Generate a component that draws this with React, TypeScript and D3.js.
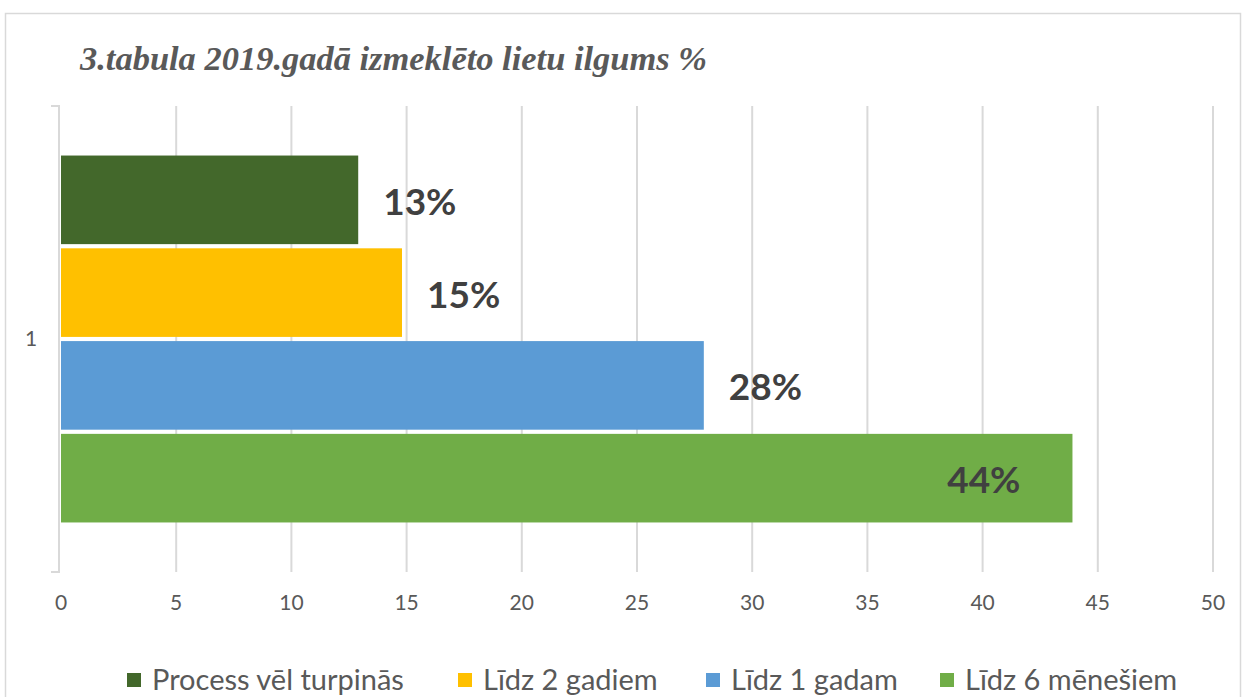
import React, { useEffect, useRef } from 'react';
import { scaleLinear, scaleBand, select } from 'd3';

const WIDTH = 1247;
const HEIGHT = 697;

const title = '3.tabula 2019.gadā izmeklēto lietu ilgums %';
const categories = ['1'];
const seriesNames = ['Process vēl turpinās', 'Līdz 2 gadiem', 'Līdz 1 gadam', 'Līdz 6 mēnešiem'];
const seriesValues = [12.9, 14.8, 27.9, 43.9];
const seriesColors = ['#43682B', '#FFC000', '#5B9BD5', '#70AD47'];
const xTicks = [0, 5, 10, 15, 20, 25, 30, 35, 40, 45, 50];
const legendX = [127, 458, 706, 940];

const GREY = '#595959';
const LABEL = '#404040';
const GRID = '#d9d9d9';
const SANS = 'Lato, "Open Sans", sans-serif';

function App () {
  const node = useRef<SVGSVGElement | null>(null);

  useEffect(() => {
    const svg = select(node.current);
    svg.selectAll('*').remove();

    const x = scaleLinear().domain([0, 50]).range([61, 1213]);
    const yTop = 106;
    const yBottom = 572;
    const y0 = scaleBand()
      .domain(categories)
      .range([yTop, yBottom])
      .paddingOuter(0.135)
      .paddingInner(0);
    const y1 = scaleBand()
      .domain(seriesNames)
      .range([0, y0.bandwidth()])
      .paddingInner(0.045);

    // frame
    svg.append('rect')
      .attr('x', 5.5).attr('y', 13.5)
      .attr('width', 1235).attr('height', 700)
      .attr('fill', '#fff')
      .attr('stroke', GRID)
      .attr('stroke-width', 1.5);

    // title
    svg.append('text')
      .attr('x', 80).attr('y', 70)
      .attr('font-family', '"Liberation Serif", "Times New Roman", serif')
      .attr('font-style', 'italic')
      .attr('font-weight', 'bold')
      .attr('font-size', 33)
      .attr('fill', GREY)
      .attr('textLength', 627)
      .attr('lengthAdjust', 'spacingAndGlyphs')
      .text(title);

    // gridlines
    svg.append('g').selectAll('line')
      .data(xTicks.filter(d => d > 0))
      .enter().append('line')
      .attr('x1', d => x(d)).attr('x2', d => x(d))
      .attr('y1', yTop).attr('y2', yBottom)
      .attr('stroke', GRID).attr('stroke-width', 2);

    // category axis
    const ax = x(0) - 2;
    svg.append('path')
      .attr('d', `M${ax - 8},${yTop} H${ax} V${yBottom} H${ax - 8}`)
      .attr('fill', 'none')
      .attr('stroke', GRID).attr('stroke-width', 2);

    svg.append('g').selectAll('text')
      .data(categories)
      .enter().append('text')
      .attr('x', 31)
      .attr('y', d => (y0(d) as number) + y0.bandwidth() / 2)
      .attr('dy', '0.35em')
      .attr('text-anchor', 'middle')
      .attr('font-family', SANS)
      .attr('font-size', 21)
      .attr('fill', GREY)
      .text(d => d);

    // x tick labels
    svg.append('g').selectAll('text')
      .data(xTicks)
      .enter().append('text')
      .attr('x', d => x(d))
      .attr('y', 603)
      .attr('dy', '0.35em')
      .attr('text-anchor', 'middle')
      .attr('font-family', SANS)
      .attr('font-size', 21)
      .attr('fill', GREY)
      .text(d => String(d));

    // bars
    const rows = seriesNames.map((name, i) => ({
      name, value: seriesValues[i], color: seriesColors[i]
    }));
    const base = y0(categories[0]) as number;

    svg.append('g').selectAll('rect')
      .data(rows)
      .enter().append('rect')
      .attr('x', x(0))
      .attr('y', d => base + (y1(d.name) as number))
      .attr('width', d => x(d.value) - x(0))
      .attr('height', y1.bandwidth())
      .attr('fill', d => d.color);

    // data labels
    svg.append('g').selectAll('text')
      .data(rows)
      .enter().append('text')
      .attr('x', d => d.value >= 40 ? x(d.value) - 52 : x(d.value) + 25)
      .attr('y', d => base + (y1(d.name) as number) + y1.bandwidth() / 2 + 2)
      .attr('dy', '0.35em')
      .attr('text-anchor', d => d.value >= 40 ? 'end' : 'start')
      .attr('font-family', SANS)
      .attr('font-weight', 'bold')
      .attr('font-size', 37)
      .attr('fill', LABEL)
      .text(d => `${Math.round(d.value)}%`);

    // legend
    const legend = svg.append('g').selectAll('g')
      .data(rows)
      .enter().append('g')
      .attr('transform', (d, i) => `translate(${legendX[i]},680)`);
    legend.append('rect')
      .attr('x', 0).attr('y', -7)
      .attr('width', 14).attr('height', 14)
      .attr('fill', d => d.color);
    legend.append('text')
      .attr('x', 25).attr('y', 0)
      .attr('dy', '0.35em')
      .attr('font-family', SANS)
      .attr('font-size', 29)
      .attr('fill', GREY)
      .text(d => d.name);
  }, []);

  return (
    <div style={{ position: 'absolute', left: 0, top: 0 }}>
      <svg ref={node} width={WIDTH} height={HEIGHT} style={{ display: 'block' }} />
    </div>
  );
}

export default App;
